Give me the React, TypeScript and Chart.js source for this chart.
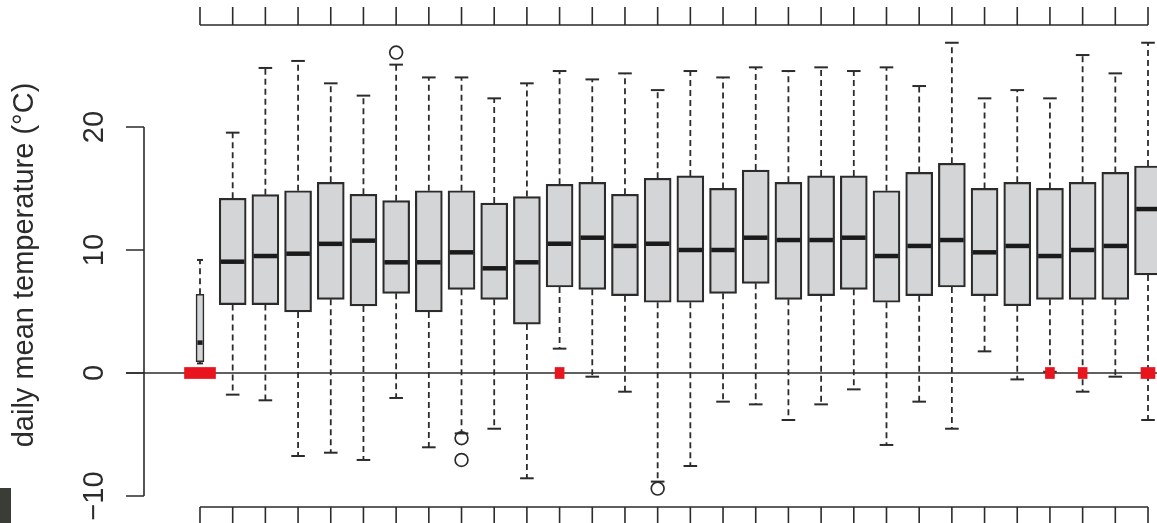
import { useEffect, useRef } from "react";
import { Chart, registerables } from "chart.js";

Chart.register(...registerables);

// category positions (one box per position)
const positions = [0, 1, 2, 3, 4, 5, 6, 7, 8, 9, 10, 11, 12, 13, 14, 15, 16, 17, 18, 19, 20, 21, 22, 23, 24, 25, 26, 27, 28, 29];
// boxes drawn narrow (few observations)
const narrowBoxes = [0];

const lowerWhisker = [0.78, -1.76, -2.22, -6.75, -6.48, -7.07, -2.03, -6.04, -4.91, -4.53, -8.56, 1.98, -0.3, -1.52, -8.83, -7.56, -2.33, -2.55, -3.82, -2.55, -1.33, -5.85, -2.33, -4.53, 1.76, -0.52, 0.1, -1.52, -0.3, -3.82];
const q1 = [0.92, 5.56, 5.56, 4.96, 5.99, 5.45, 6.48, 4.96, 6.8, 5.99, 3.98, 6.99, 6.8, 6.29, 5.75, 5.75, 6.48, 7.29, 5.99, 6.29, 6.8, 5.75, 6.29, 6.99, 6.29, 5.47, 5.99, 5.99, 5.99, 7.97];
const medians = [2.47, 9.05, 9.51, 9.7, 10.5, 10.76, 9.0, 9.0, 9.81, 8.51, 9.0, 10.51, 11.0, 10.33, 10.51, 10.0, 10.0, 11.0, 10.81, 10.81, 11.0, 9.51, 10.33, 10.81, 9.81, 10.33, 9.51, 10.0, 10.33, 13.33];
const q3 = [6.4, 14.2, 14.5, 14.82, 15.5, 14.53, 14.01, 14.82, 14.82, 13.82, 14.34, 15.34, 15.5, 14.53, 15.83, 16.02, 15.01, 16.5, 15.5, 16.02, 16.02, 14.82, 16.31, 17.05, 15.01, 15.5, 15.01, 15.5, 16.31, 16.83];
const upperWhisker = [9.19, 19.54, 24.8, 25.37, 23.55, 22.55, 25.07, 24.03, 24.03, 22.33, 23.55, 24.55, 23.87, 24.36, 23.0, 24.55, 24.03, 24.85, 24.55, 24.85, 24.55, 24.85, 23.33, 26.85, 22.33, 23.0, 22.33, 25.85, 24.36, 26.85];

// outliers
const outlierPos = [6, 8, 8, 14];
const outlierVal = [26.05, -5.3, -7.07, -9.4];

// red markers on the zero line, grouped by marker width
const redWide = [0];
const redSmall = [11, 26, 27];
const redMid = [29];

const yTicks = [-10, 0, 10, 20];
const yTickLabels = ["\u221210", "0", "10", "20"];
const yTitle = "daily mean temperature (\u00b0C)";

const FONT = '29px "Liberation Sans", Arial, sans-serif';
const INK = "#2b2b2b";

const rAxes = {
  id: "rAxes",
  beforeDatasetsDraw(chart: any) {
    const { ctx } = chart;
    const ys = chart.scales.y;
    const y0 = ys.getPixelForValue(0);
    ctx.save();
    ctx.strokeStyle = INK;
    ctx.lineWidth = 1.5;
    ctx.beginPath();
    ctx.moveTo(126, y0);
    ctx.lineTo(chart.width, y0);
    ctx.stroke();
    ctx.restore();
  },
  afterDraw(chart: any) {
    const { ctx } = chart;
    const xs = chart.scales.x;
    const ys = chart.scales.y;
    ctx.save();
    ctx.strokeStyle = INK;
    ctx.fillStyle = INK;
    ctx.lineWidth = 1.6;
    // y axis
    const ax = 144;
    const yTop = ys.getPixelForValue(yTicks[yTicks.length - 1]);
    const yBot = ys.getPixelForValue(yTicks[0]);
    ctx.beginPath();
    ctx.moveTo(ax, yTop);
    ctx.lineTo(ax, yBot);
    yTicks.forEach((t) => {
      const py = ys.getPixelForValue(t);
      ctx.moveTo(ax, py);
      ctx.lineTo(126, py);
    });
    ctx.stroke();
    ctx.font = FONT;
    ctx.textAlign = "center";
    ctx.textBaseline = "alphabetic";
    yTicks.forEach((t, k) => {
      const py = ys.getPixelForValue(t);
      ctx.save();
      ctx.translate(103, py);
      ctx.rotate(-Math.PI / 2);
      ctx.fillText(yTickLabels[k], 0, 0);
      ctx.restore();
    });
    // title
    ctx.save();
    ctx.translate(33, 265);
    ctx.rotate(-Math.PI / 2);
    ctx.fillText(yTitle, 0, 0);
    ctx.restore();
    // top and bottom x axes
    const xL = xs.getPixelForValue(positions[0]);
    const xR = xs.getPixelForValue(positions[positions.length - 1]);
    ctx.beginPath();
    ctx.moveTo(xL, 25);
    ctx.lineTo(xR, 25);
    ctx.moveTo(xL, 507);
    ctx.lineTo(xR, 507);
    positions.forEach((p) => {
      const px = xs.getPixelForValue(p);
      ctx.moveTo(px, 25);
      ctx.lineTo(px, 7);
      ctx.moveTo(px, 507);
      ctx.lineTo(px, 525);
    });
    ctx.stroke();
    // dark corner block
    ctx.fillStyle = "#3a3d36";
    ctx.fillRect(0, 488, 11, 35);
    ctx.restore();
  },
};

function whiskerData(from: number[], to: number[]) {
  const out: any[] = [];
  positions.forEach((p, i) => {
    out.push({ x: p, y: from[i] });
    out.push({ x: p, y: to[i] });
    out.push({ x: p, y: null });
  });
  return out;
}

export default function App() {
  const ref = useRef<HTMLCanvasElement | null>(null);
  useEffect(() => {
    if (!ref.current) return;
    const isNarrow = (p: number) => narrowBoxes.includes(p);
    const wide = positions.filter((p) => !isNarrow(p));
    const narrow = positions.filter((p) => isNarrow(p));
    const redBar = (list: number[], thickness: number) => ({
      type: "bar",
      data: list.map((p) => ({ x: p, y: [-0.45, 0.45] })),
      backgroundColor: "#e8151f",
      borderWidth: 0,
      barThickness: thickness,
      grouped: false,
      order: 0,
    });
    const chart = new Chart(ref.current, {
      type: "bar",
      data: {
        datasets: [
          redBar(redWide, 31),
          redBar(redSmall, 9),
          redBar(redMid, 14),
          {
            type: "scatter",
            data: positions.map((p, i) => ({ x: p, y: medians[i] })),
            pointStyle: "line",
            pointRadius: positions.map((p) => (isNarrow(p) ? 2.6 : 11.8)),
            pointBorderWidth: 4.5,
            pointBorderColor: "#1a1a1a",
            pointBackgroundColor: "#1a1a1a",
            order: 1,
          },
          {
            type: "scatter",
            data: outlierPos.map((p, i) => ({ x: p, y: outlierVal[i] })),
            pointStyle: "circle",
            pointRadius: 6.4,
            pointBorderWidth: 1.7,
            pointBorderColor: INK,
            pointBackgroundColor: "rgba(0,0,0,0)",
            order: 1,
          },
          {
            type: "scatter",
            data: positions
              .map((p, i) => [{ x: p, y: upperWhisker[i] }, { x: p, y: lowerWhisker[i] }])
              .flat(),
            pointStyle: "line",
            pointRadius: positions.map((p) => (isNarrow(p) ? [3, 3] : [6.8, 6.8])).flat(),
            pointBorderWidth: 2,
            pointBorderColor: INK,
            order: 2,
          },
          {
            type: "bar",
            data: wide.map((p) => ({ x: p, y: [q1[p], q3[p]] })),
            backgroundColor: "#d4d5d7",
            borderColor: INK,
            borderWidth: 2.2,
            borderSkipped: false,
            barThickness: 27,
            grouped: false,
            order: 3,
          },
          {
            type: "bar",
            data: narrow.map((p) => ({ x: p, y: [q1[p], q3[p]] })),
            backgroundColor: "#d4d5d7",
            borderColor: INK,
            borderWidth: 1.6,
            borderSkipped: false,
            barThickness: 8,
            grouped: false,
            order: 3,
          },
          {
            type: "line",
            data: whiskerData(q3, upperWhisker),
            borderColor: INK,
            borderWidth: 1.8,
            borderDash: [6, 4],
            pointRadius: 0,
            fill: false,
            spanGaps: false,
            order: 4,
          },
          {
            type: "line",
            data: whiskerData(q1, lowerWhisker),
            borderColor: INK,
            borderWidth: 1.8,
            borderDash: [6, 4],
            pointRadius: 0,
            fill: false,
            spanGaps: false,
            order: 4,
          },
        ] as any,
      },
      options: {
        animation: false,
        responsive: false,
        events: [],
        layout: { padding: 0, autoPadding: false },
        plugins: { legend: { display: false }, tooltip: { enabled: false } },
        scales: {
          x: { type: "linear", min: -6.118, max: 29.275, display: false, offset: false, grid: { offset: false } },
          y: { type: "linear", min: -12.195, max: 30.325, display: false },
        },
      } as any,
      plugins: [rAxes],
    });
    return () => chart.destroy();
  }, []);
  return (
    <canvas
      ref={ref}
      width={1157}
      height={523}
      style={{ position: "absolute", left: 0, top: 0, width: 1157, height: 523, background: "#ffffff" }}
    />
  );
}
